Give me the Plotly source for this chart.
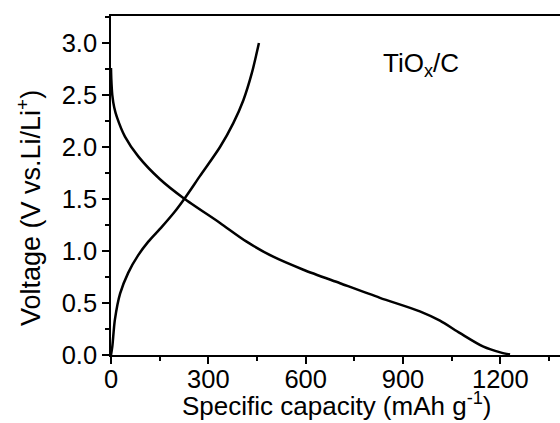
import plotly.graph_objects as go

# Discharge curve (capacity mAh/g, voltage V)
discharge_cap = [0, 1, 4, 10, 18, 43, 84, 151, 223, 336, 418, 500, 593, 706, 829, 952, 1014, 1076, 1148, 1200, 1230]
discharge_v = [2.76, 2.65, 2.50, 2.38, 2.29, 2.10, 1.91, 1.69, 1.51, 1.27, 1.09, 0.945, 0.82, 0.69, 0.55, 0.42, 0.33, 0.21, 0.08, 0.025, 0.005]

# Charge curve
charge_cap = [0, 4, 12, 28, 53, 84, 115, 156, 197, 228, 274, 336, 377, 408, 434, 456]
charge_v = [0.0, 0.08, 0.34, 0.59, 0.79, 0.96, 1.09, 1.23, 1.38, 1.51, 1.72, 2.0, 2.23, 2.45, 2.71, 3.0]

x_ticks = [0, 300, 600, 900, 1200]
y_ticks = [0.0, 0.5, 1.0, 1.5, 2.0, 2.5, 3.0]

FONT = "Liberation Sans, Arial, sans-serif"

fig = go.Figure()
for xs, ys in [(discharge_cap, discharge_v), (charge_cap, charge_v)]:
    fig.add_trace(go.Scatter(x=xs, y=ys, mode="lines",
                             line=dict(color="black", width=2.5, shape="spline", smoothing=0.8),
                             showlegend=False))

fig.update_layout(
    width=560, height=423,
    margin=dict(l=111, r=0, t=16, b=68),
    paper_bgcolor="white", plot_bgcolor="white",
    font=dict(family=FONT, size=25, color="black"),
    xaxis=dict(range=[0, 1384], tickvals=x_ticks, ticktext=[str(v) for v in x_ticks],
               showline=True, linecolor="black", linewidth=1.5, mirror=True,
               ticks="outside", ticklen=7, tickwidth=1.5, tickcolor="black",
               ticklabelstandoff=-6,
               minor=dict(dtick=150, tick0=0, ticks="outside", ticklen=4, tickwidth=1.5, tickcolor="black"),
               showgrid=False, zeroline=False,
               tickfont=dict(size=25.5, family=FONT)),
    yaxis=dict(range=[0, 3.26], tickvals=y_ticks, ticktext=["%.1f" % v for v in y_ticks],
               showline=True, linecolor="black", linewidth=1.5, mirror=False,
               ticks="outside", ticklen=7, tickwidth=1.5, tickcolor="black",
               minor=dict(dtick=0.25, tick0=0, ticks="outside", ticklen=4, tickwidth=1.5, tickcolor="black"),
               showgrid=False, zeroline=False,
               tickfont=dict(size=25.5, family=FONT)),
    annotations=[
        dict(text="TiO<sub>x</sub>/C", x=0.69, y=0.858, xref="paper", yref="paper",
             xanchor="center", yanchor="middle", showarrow=False,
             font=dict(size=26, family=FONT)),
        dict(text="Specific capacity (mAh g<sup>-1</sup>)", x=0.503, y=0, xref="paper", yref="paper",
             xanchor="center", yanchor="bottom", yshift=-68, showarrow=False,
             font=dict(size=26, family=FONT)),
        dict(text="Voltage (V vs.Li/Li<sup>+</sup>)", x=0, y=0.4336, xref="paper", yref="paper",
             xanchor="center", yanchor="middle", xshift=-82, textangle=-90, showarrow=False,
             font=dict(size=27, family=FONT)),
    ],
)

fig.write_html("out.html")
